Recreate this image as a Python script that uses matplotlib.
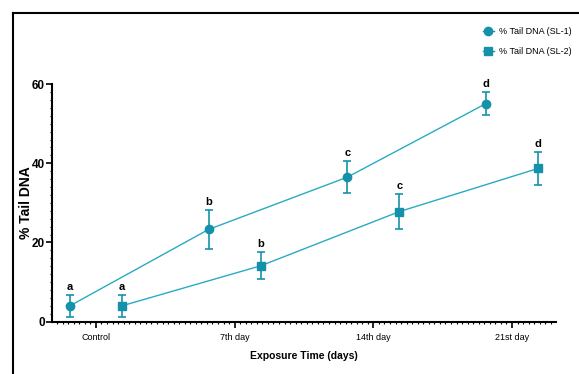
import matplotlib.pyplot as plt
from matplotlib.lines import Line2D
from matplotlib.ticker import MultipleLocator
import numpy as np

# data
groups = ["Control", "7th day", "14th day", "21st day"]
sl1 = [4.0, 23.3, 36.5, 55.1]
sl1_err = [2.8, 4.9, 4.1, 3.0]
sl2 = [4.0, 14.1, 27.8, 38.7]
sl2_err = [2.8, 3.4, 4.4, 4.1]
letters = ["a", "b", "c", "d"]

plt.rcParams['font.family'] = ['Liberation Sans', 'DejaVu Sans']

mk_col = "#1592aa"
ln_col = "#2aaac4"

fig = plt.figure(figsize=(5.79, 3.74), dpi=100)
ax = fig.add_axes([0.0893, 0.140, 0.871, 0.635])

x = np.arange(len(groups))
off = 0.1875

for xs, ys, es, m in [(x - off, sl1, sl1_err, "o"), (x + off, sl2, sl2_err, "s")]:
    ax.plot(xs, ys, color=ln_col, lw=1.0, zorder=2)
    ax.errorbar(xs, ys, yerr=es, fmt=m, color=mk_col, ms=6, elinewidth=1.2,
                capsize=3, capthick=1.2, zorder=3)
    for xi, yi, ei, t in zip(xs, ys, es, letters):
        ax.text(xi, yi + ei + 0.8, t, ha="center", va="bottom",
                fontsize=8, fontweight="bold")

ax.set_xlim(-0.319, 3.317)
ax.set_ylim(0, 60)
ax.set_xticks(x)
ax.set_xticklabels(groups, fontsize=6.5)
ax.set_yticks([0, 20, 40, 60])
ax.yaxis.set_minor_locator(MultipleLocator(2))
ax.xaxis.set_minor_locator(MultipleLocator(0.04))
ax.tick_params(axis="y", labelsize=8.5, width=1.2, length=4, pad=1)
ax.tick_params(axis="x", width=1.2, length=4, pad=4)
ax.tick_params(which="minor", length=1.5, width=0.8)
for lab in ax.get_yticklabels():
    lab.set_fontweight("bold")

for s in ["top", "right"]:
    ax.spines[s].set_visible(False)
for s in ["left", "bottom"]:
    ax.spines[s].set_linewidth(1.5)

ax.set_ylabel("% Tail DNA", fontsize=10, fontweight="bold")
ax.yaxis.set_label_coords(-0.037, 0.5)
ax.set_xlabel("Exposure Time (days)", fontsize=7.5, fontweight="bold")
ax.xaxis.set_label_coords(0.5, -0.122)

# legend
handles = [
    Line2D([], [], color=mk_col, marker="o", ms=6, lw=1.0),
    Line2D([], [], color=mk_col, marker="s", ms=6, lw=1.0),
]
fig.legend(handles, ["% Tail DNA (SL-1)", "% Tail DNA (SL-2)"],
           loc="upper left", bbox_to_anchor=(0.834, 0.928), frameon=False,
           fontsize=6.5, handlelength=1.2, handletextpad=0.55, labelspacing=1.25,
           borderpad=0, borderaxespad=0)

# outer frame lines
fig.add_artist(Line2D([13 / 579, 1], [1 - 13 / 374] * 2, color="black", lw=1.5,
                      transform=fig.transFigure))
fig.add_artist(Line2D([13 / 579] * 2, [0, 1 - 13 / 374], color="black", lw=1.5,
                      transform=fig.transFigure))

fig.savefig("out.png", dpi=100)
